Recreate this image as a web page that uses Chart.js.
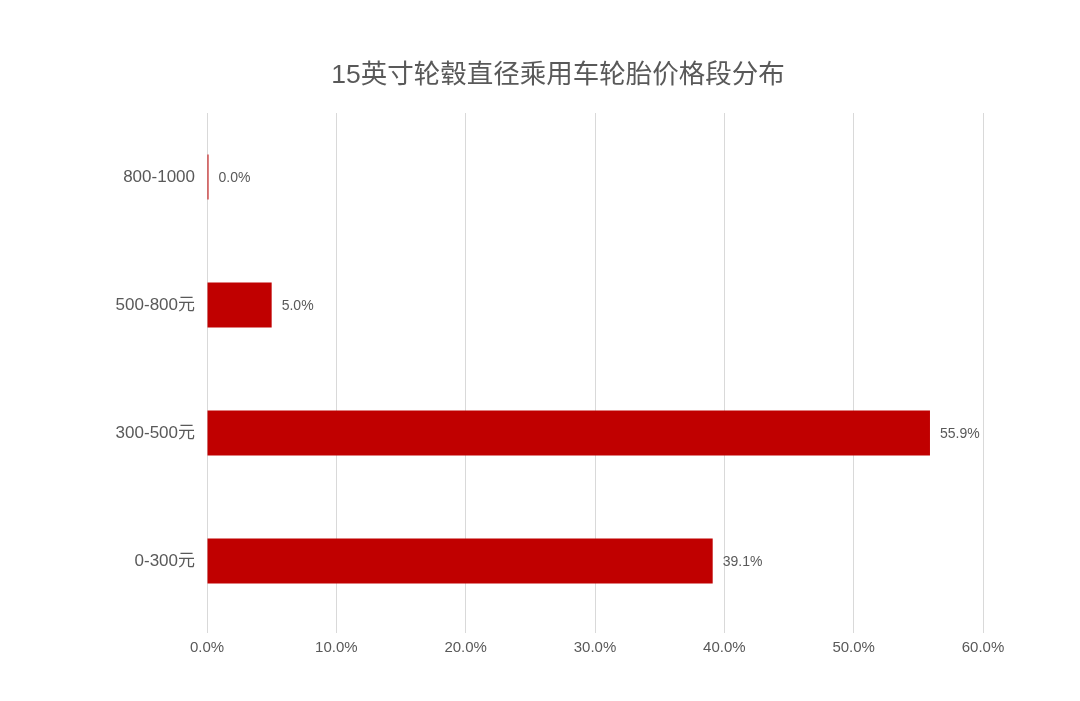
<!DOCTYPE html>
<html>
<head>
<meta charset="utf-8">
<title>15英寸轮毂直径乘用车轮胎价格段分布</title>
<script src="https://cdn.jsdelivr.net/npm/chart.js@4/dist/chart.umd.min.js"></script>
<style>
    html, body { margin: 0; padding: 0; background: #fff; }
    #wrap { width: 1080px; height: 701px; }
</style>
</head>
<body>
<div id="wrap"><canvas id="priceChart" width="1080" height="701"></canvas></div>
<script>
// 价格段 (从上到下)
const priceBands = ["800-1000", "500-800元", "300-500元", "0-300元"];
const shareValues = [0.0, 5.0, 55.9, 39.1];
const xTicks = [0, 10, 20, 30, 40, 50, 60];
const chartTitle = "15英寸轮毂直径乘用车轮胎价格段分布";

const fontFamily = "'Liberation Sans', Arial, 'Noto Sans CJK SC', sans-serif";

// 标题在原图里略微偏右，所以自己画
const offsetTitle = {
    id: "offsetTitle",
    afterDraw(chart) {
        const ctx = chart.ctx;
        ctx.save();
        ctx.font = "26.5px " + fontFamily;
        ctx.fillStyle = "#595959";
        ctx.textAlign = "center";
        ctx.textBaseline = "middle";
        ctx.fillText(chartTitle, 558, 76);
        ctx.restore();
    }
};

// 在柱子末端写百分比
const valueLabels = {
    id: "valueLabels",
    afterDatasetsDraw(chart) {
        const ctx = chart.ctx;
        const meta = chart.getDatasetMeta(0);
        ctx.save();
        ctx.font = "14px " + fontFamily;
        ctx.fillStyle = "#595959";
        ctx.textBaseline = "middle";
        ctx.textAlign = "left";
        meta.data.forEach((bar, i) => {
            ctx.fillText(shareValues[i].toFixed(1) + "%", bar.x + 10, bar.y + 1);
        });
        ctx.restore();
    }
};

const ctx = document.getElementById("priceChart").getContext("2d");
const priceChart = new Chart(ctx, {
    type: "bar",
    data: {
        labels: priceBands,
        datasets: [
            {
                data: shareValues,
                backgroundColor: "#C00000",
                barPercentage: 0.35,
                categoryPercentage: 1,
                minBarLength: 1.5,
            },
        ],
    },
    options: {
        indexAxis: "y",
        responsive: false,
        animation: false,
        layout: { padding: { left: 0, right: 97, top: 113, bottom: 30 } },
        plugins: {
            legend: { display: false },
            tooltip: { enabled: false },
            title: { display: false },
        },
        scales: {
            x: {
                min: xTicks[0],
                max: xTicks[xTicks.length - 1],
                afterBuildTicks: (axis) => {
                    axis.ticks = xTicks.map((v) => ({ value: v }));
                },
                afterFit: (axis) => {
                    axis.height = 46;
                },
                border: { display: false },
                grid: { color: "#d9d9d9", tickLength: 8, tickColor: "#d9d9d9" },
                ticks: {
                    color: "#595959",
                    font: { size: 15, family: fontFamily },
                    padding: 6,
                    callback: (v) => Number(v).toFixed(1) + "%",
                },
            },
            y: {
                afterFit: (axis) => {
                    axis.width = 207;
                },
                border: { display: false },
                grid: { display: false, drawTicks: false },
                ticks: {
                    color: "#595959",
                    font: { size: 17, family: fontFamily },
                    padding: 12,
                },
            },
        },
    },
    plugins: [valueLabels, offsetTitle],
});
</script>
</body>
</html>
